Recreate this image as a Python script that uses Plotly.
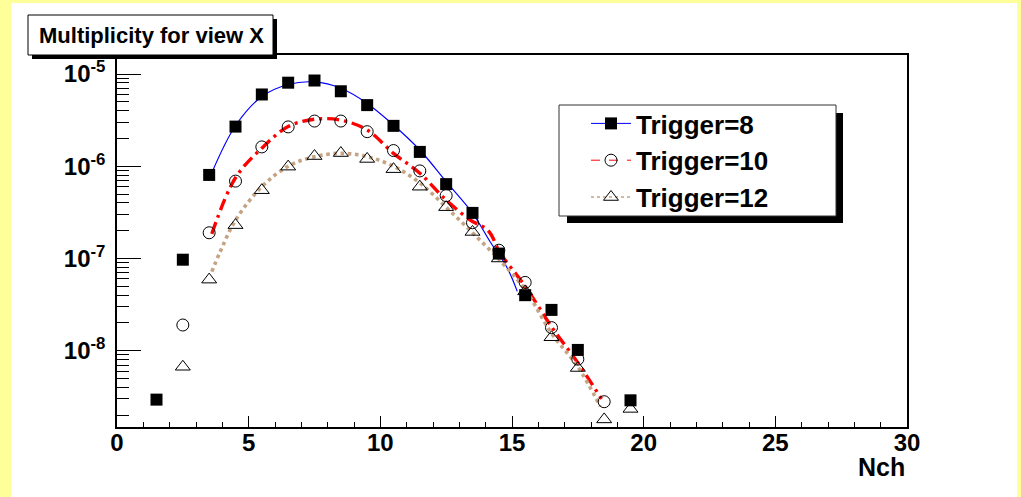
import plotly.graph_objects as go

# ---- data ----
nch = [1.5, 2.5, 3.5, 4.5, 5.5, 6.5, 7.5, 8.5, 9.5, 10.5, 11.5, 12.5, 13.5,
       14.5, 15.5, 16.5, 17.5, 18.5, 19.5]
trig8 = [2.95e-9, 9.7e-8, 8.05e-7, 2.69e-6, 6.0e-6, 8.05e-6, 8.5e-6, 6.5e-6,
         4.6e-6, 2.74e-6, 1.43e-6, 6.4e-7, 3.12e-7, 1.13e-7, 4.0e-8, 2.77e-8,
         1.02e-8, None, 2.9e-9]
trig10 = [None, 1.9e-8, 1.9e-7, 6.9e-7, 1.62e-6, 2.67e-6, 3.09e-6, 3.09e-6,
          2.37e-6, 1.48e-6, 8.9e-7, 4.8e-7, 2.44e-7, 1.23e-7, 5.5e-8, 1.78e-8,
          8.1e-9, 2.8e-9, None]
trig12 = [None, 6.7e-9, 5.9e-8, 2.3e-7, 5.5e-7, 9.9e-7, 1.29e-6, 1.39e-6,
          1.2e-6, 9.3e-7, 6.0e-7, 3.6e-7, 1.94e-7, 1.0e-7, 4.4e-8, 1.4e-8,
          6.5e-9, 1.8e-9, 2.34e-9]

# fitted curves
fit8_x = [3.6, 4.5, 5.5, 6.5, 7.5, 8.5, 9.5, 10.5, 11.5, 12.5, 13.5, 14.2, 14.8, 15.2]
fit8_y = [8.5e-7, 2.75e-6, 5.7e-6, 7.7e-6, 8.2e-6, 7.0e-6, 4.8e-6, 2.8e-6,
          1.5e-6, 6.8e-7, 3.1e-7, 1.47e-7, 8.1e-8, 4.4e-8]
fit10_x = [3.6, 4.5, 5.5, 6.5, 7.5, 8.5, 9.5, 10.5, 11.5, 12.5, 13.4, 14.1,
           14.55, 15.5, 16.5, 17.5, 18.4]
fit10_y = [1.85e-7, 7.5e-7, 1.57e-6, 2.69e-6, 3.23e-6, 3.16e-6, 2.47e-6, 1.38e-6,
           8.4e-7, 4.3e-7, 2.63e-7, 2.0e-7, 1.15e-7, 5.0e-8, 1.82e-8, 7.4e-9, 3.0e-9]
fit12_x = [3.6, 3.9, 4.5, 5.5, 6.5, 7.5, 8.5, 9.5, 10.5, 11.5, 12.5, 13.5,
           14.5, 15.5, 16.5, 17.5, 18.35]
fit12_y = [7.2e-8, 1.15e-7, 2.6e-7, 6.0e-7, 1.0e-6, 1.27e-6, 1.38e-6, 1.27e-6,
           1.0e-6, 6.6e-7, 3.6e-7, 1.9e-7, 9.8e-8, 4.6e-8, 1.55e-8, 6.7e-9, 2.5e-9]

names = ["Trigger=8", "Trigger=10", "Trigger=12"]
y_major = [1e-8, 1e-7, 1e-6, 1e-5]
y_major_text = ["10<sup>-8</sup>", "10<sup>-7</sup>", "10<sup>-6</sup>", "10<sup>-5</sup>"]
x_ticks = [0, 5, 10, 15, 20, 25, 30]

FONT = "Liberation Sans, Arial, sans-serif"
BLUE = "#0000ff"
RED = "#ff0000"
TAN = "#c4a484"
RED_DASH = "12px,5px,3px,5px"

fig = go.Figure()

# fit curves
fig.add_trace(go.Scatter(x=fit8_x, y=fit8_y, mode="lines", line=dict(color=BLUE, width=1.2, shape="spline"),
                         showlegend=False, hoverinfo="skip"))
fig.add_trace(go.Scatter(x=fit10_x, y=fit10_y, mode="lines",
                         line=dict(color=RED, width=3.4, dash=RED_DASH, shape="spline"),
                         showlegend=False, hoverinfo="skip"))
fig.add_trace(go.Scatter(x=fit12_x, y=fit12_y, mode="lines",
                         line=dict(color=TAN, width=3.6, dash="dot", shape="spline"),
                         showlegend=False, hoverinfo="skip"))

# data points
fig.add_trace(go.Scatter(x=nch, y=trig8, mode="markers", showlegend=False,
                         marker=dict(symbol="square", size=12, color="black")))
fig.add_trace(go.Scatter(x=nch, y=trig10, mode="markers", showlegend=False,
                         marker=dict(symbol="circle-open", size=12, color="black", line=dict(width=1))))
fig.add_trace(go.Scatter(x=nch, y=trig12, mode="markers", showlegend=False,
                         marker=dict(symbol="triangle-up-open", size=13, color="black", line=dict(width=1))))

# legend entries
leg_styles = [
    (dict(color=BLUE, width=1), dict(symbol="square", size=12, color="black")),
    (dict(color=RED, width=1, dash="dash"), dict(symbol="circle-open", size=12, color="black", line=dict(width=1))),
    (dict(color=TAN, width=1.5, dash="dot"), dict(symbol="triangle-up-open", size=13, color="black", line=dict(width=1))),
]
for i, (nm, (ln, mk)) in enumerate(zip(names, leg_styles)):
    fig.add_trace(go.Scatter(x=[None], y=[None], mode="lines+markers", name=nm,
                             line=ln, marker=mk, legendgroup=f"g{i}", showlegend=True))

# minor y ticks overlay axis
yr = [-8.827, -4.794]
minor_vals = []
for e in range(-9, -4):
    for m in range(2, 10):
        v = m * 10.0 ** e
        if 10 ** yr[0] <= v <= 10 ** yr[1]:
            minor_vals.append(v)


def px_x(p):
    return (p - 117) / 790.0


def px_y(p):
    return (427 - p) / 372.0


shapes = [
    # white pad
    dict(type="rect", xref="paper", yref="paper", x0=px_x(11), x1=px_x(1017), y0=px_y(3), y1=px_y(497),
         fillcolor="white", line=dict(width=0), layer="below"),
    # title shadow + box
    dict(type="rect", xref="paper", yref="paper", x0=px_x(32), x1=px_x(277), y0=px_y(19), y1=px_y(59),
         fillcolor="black", line=dict(width=0), layer="above"),
    dict(type="rect", xref="paper", yref="paper", x0=px_x(28), x1=px_x(273), y0=px_y(15), y1=px_y(55),
         fillcolor="white", line=dict(color="black", width=1), layer="above"),
    # legend shadow + box
    dict(type="rect", xref="paper", yref="paper", x0=px_x(567), x1=px_x(843), y0=px_y(113), y1=px_y(223),
         fillcolor="black", line=dict(width=0), layer="above"),
    dict(type="rect", xref="paper", yref="paper", x0=px_x(559), x1=px_x(836), y0=px_y(105), y1=px_y(216),
         fillcolor="white", line=dict(color="#333333", width=1), layer="above"),
]

annotations = [
    dict(text="<b>Multiplicity for view X</b>", xref="paper", yref="paper", x=px_x(151), y=px_y(35),
         xanchor="center", yanchor="middle", showarrow=False, font=dict(family=FONT, size=22, color="black")),
    dict(text="<b>Nch</b>", xref="paper", yref="paper", x=1.0, y=px_y(467), xanchor="right", yanchor="middle",
         showarrow=False, font=dict(family=FONT, size=25, color="black")),
]

fig.update_layout(
    width=1021, height=497, autosize=False,
    margin=dict(l=117, r=114, t=55, b=70, pad=0),
    paper_bgcolor="#ffff99", plot_bgcolor="white",
    font=dict(family=FONT, color="black"),
    shapes=shapes, annotations=annotations,
    showlegend=True,
    legend=dict(x=px_x(586), y=px_y(100), xanchor="left", yanchor="top",
                bgcolor="rgba(0,0,0,0)", borderwidth=0, tracegroupgap=0, itemwidth=40,
                font=dict(family=FONT, size=26, color="black", weight="bold")),
    xaxis=dict(range=[0, 30], tickvals=x_ticks, ticks="inside", ticklen=11, tickwidth=1, tickcolor="black",
               minor=dict(dtick=1, tick0=0, ticks="inside", ticklen=5, tickwidth=1, tickcolor="black"),
               showline=True, linecolor="black", linewidth=1.5, mirror=True, showgrid=False, zeroline=False,
               ticklabelstandoff=-7,
               tickfont=dict(family=FONT, size=24, color="black", weight="bold")),
    yaxis=dict(type="log", range=yr, tickvals=y_major, ticktext=y_major_text, ticks="inside", ticklen=24,
               tickwidth=1, tickcolor="black", showline=True, linecolor="black", linewidth=1.5, mirror=True,
               showgrid=False, zeroline=False, ticklabelstandoff=5,
               tickfont=dict(family=FONT, size=24, color="black", weight="bold")),
    yaxis2=dict(type="log", range=yr, overlaying="y", side="left", anchor="x", tickvals=minor_vals,
                ticks="inside", ticklen=12, tickwidth=1, tickcolor="black", showticklabels=False,
                showgrid=False, zeroline=False, showline=False),
)
# invisible trace that activates the minor-tick overlay axis
fig.add_trace(go.Scatter(x=[None], y=[None], yaxis="y2", showlegend=False, hoverinfo="skip"))

fig.write_html("out.html")
